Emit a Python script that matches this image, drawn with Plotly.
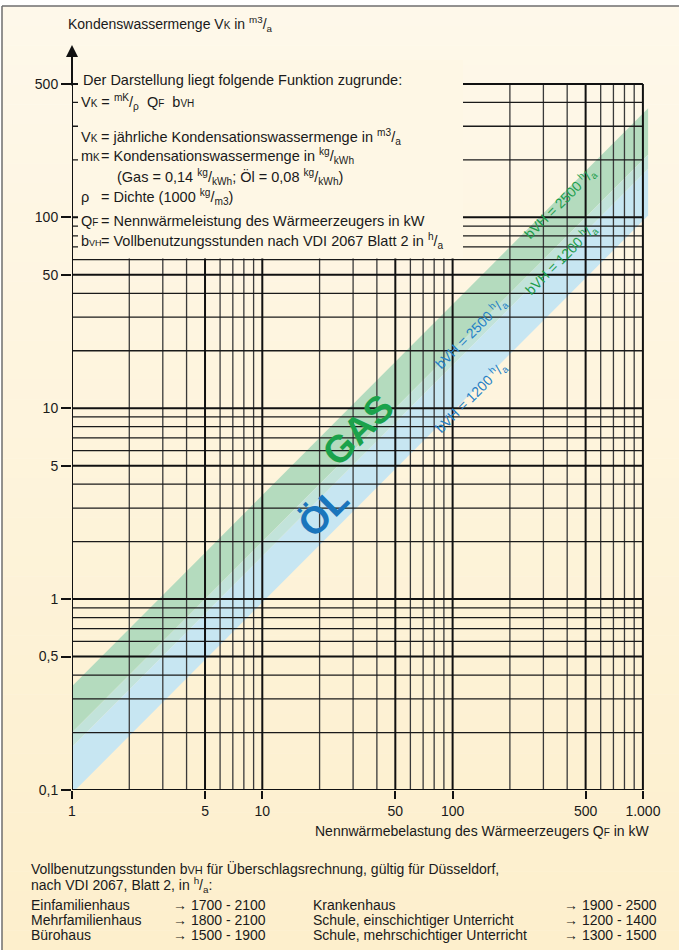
import plotly.graph_objects as go

# ---------------- data ----------------
X_MAJOR = [1, 5, 10, 50, 100, 500, 1000]
X_MINOR = [2, 3, 4, 6, 7, 8, 9, 20, 30, 40, 60, 70, 80, 90,
           200, 300, 400, 600, 700, 800, 900]
Y_MAJOR = [0.1, 0.5, 1, 5, 10, 50, 100, 500]
Y_MINOR = [0.2, 0.3, 0.4, 0.6, 0.7, 0.8, 0.9, 2, 3, 4, 6, 7, 8, 9,
           20, 30, 40, 60, 70, 80, 90, 200, 300, 400]
X_TICKTEXT = ["1", "5", "10", "50", "100", "500", "1.000"]
Y_TICKTEXT = ["0,1", "0,5", "1", "5", "10", "50", "100", "500"]

FUELS = ["Gas", "Öl"]
M_K = [0.14, 0.08]          # kg/kWh
RHO = 1000                  # kg/m3
B_VH = [1200, 2500]         # h/a
Q_BAND = [1, 1065]          # kW, extent of the bands

TABLE_LEFT = ["Einfamilienhaus", "Mehrfamilienhaus", "Bürohaus"]
RANGE_LEFT = ["1700 - 2100", "1800 - 2100", "1500 - 1900"]
TABLE_RIGHT = ["Krankenhaus", "Schule, einschichtiger Unterricht",
               "Schule, mehrschichtiger Unterricht"]
RANGE_RIGHT = ["1900 - 2500", "1200 - 1400", "1300 - 1500"]

# ---------------- styling ----------------
FONT = "Liberation Sans, Arial, Helvetica, sans-serif"
W, H = 679, 950
L, R, T, B = 72, 649, 40, 790
GREEN_BAND = "#b4dbbe"
OVERLAP_BAND = "#c2e3da"
BLUE_BAND = "#c7e6f2"
GREEN_TXT = "#1f9e4d"
BLUE_TXT = "#2481c6"
INK = "#1a1a1a"


def vk(m, b, q):
    return m / RHO * q * b


gas_lo = [vk(M_K[0], B_VH[0], q) for q in Q_BAND]
gas_hi = [vk(M_K[0], B_VH[1], q) for q in Q_BAND]
oil_lo = [vk(M_K[1], B_VH[0], q) for q in Q_BAND]
oil_hi = [vk(M_K[1], B_VH[1], q) for q in Q_BAND]

fig = go.Figure()


def band(top, bottom, color):
    fig.add_trace(go.Scatter(
        x=Q_BAND + Q_BAND[::-1], y=top + bottom[::-1],
        mode="lines", line=dict(width=0), fill="toself",
        fillcolor=color, hoverinfo="skip"))


band(gas_hi, oil_hi, GREEN_BAND)
band(oil_hi, gas_lo, OVERLAP_BAND)
band(gas_lo, oil_lo, BLUE_BAND)


def vlines(xs):
    xx, yy = [], []
    for v in xs:
        xx += [v, v, None]
        yy += [Y_MAJOR[0], Y_MAJOR[-1], None]
    return xx, yy


def hlines(ys):
    xx, yy = [], []
    for v in ys:
        xx += [X_MAJOR[0], X_MAJOR[-1], None]
        yy += [v, v, None]
    return xx, yy


for fn, vals, width, color in [(vlines, X_MINOR, 1.3, "#3a3a3a"),
                               (hlines, Y_MINOR, 1.3, "#1a1a1a"),
                               (vlines, X_MAJOR, 2.0, "#111111"),
                               (hlines, Y_MAJOR, 2.0, "#111111")]:
    xx, yy = fn(vals)
    fig.add_trace(go.Scatter(x=xx, y=yy, mode="lines",
                             line=dict(width=width, color=color),
                             hoverinfo="skip"))


def px(x):
    return (x - L) / (R - L)


def py(y):
    return (B - y) / (B - T)


# background gradient stripes + frame
shapes = []
top_c = (0xFE, 0xF8, 0xEA)
bot_c = (0xFD, 0xEF, 0xCC)
n = 48
y0p = 6.0
for i in range(n):
    ya = y0p + (H - y0p) * i / n
    yb = y0p + (H - y0p) * (i + 1) / n + 0.5
    f = (i + 0.5) / n
    c = tuple(round(top_c[k] + (bot_c[k] - top_c[k]) * f) for k in range(3))
    shapes.append(dict(type="rect", xref="paper", yref="paper",
                       x0=px(2), x1=px(W + 2), y0=py(ya), y1=py(yb),
                       fillcolor="rgb(%d,%d,%d)" % c, line=dict(width=0),
                       layer="below"))


def bg_at(y):
    f = (y - y0p) / (H - y0p)
    c = tuple(round(top_c[k] + (bot_c[k] - top_c[k]) * f) for k in range(3))
    return "rgb(%d,%d,%d)" % c


# cover box for the explanation text
shapes.append(dict(type="rect", xref="paper", yref="paper",
                   x0=px(78), x1=px(463), y0=py(60), y1=py(258.5),
                   fillcolor=bg_at(160), line=dict(width=0), layer="above"))
# frame
shapes.append(dict(type="line", xref="paper", yref="paper",
                   x0=px(2), x1=px(W + 2), y0=py(6), y1=py(6),
                   line=dict(color="#6e6e6e", width=1.5), layer="above"))
shapes.append(dict(type="line", xref="paper", yref="paper",
                   x0=px(2), x1=px(2), y0=py(6), y1=py(H + 2),
                   line=dict(color="#6e6e6e", width=1.5), layer="above"))

ann = []


def text(t, x, y, xa="left", ya="middle", size=14, color=INK, angle=0):
    if xa == "left":
        x -= 3
    ann.append(dict(text=t, x=px(x), y=py(y), xref="paper", yref="paper",
                    xanchor=xa, yanchor=ya, showarrow=False, textangle=angle,
                    borderpad=0, borderwidth=0,
                    font=dict(family=FONT, size=size, color=color)))


def sm(s, size=10):
    return "<span style='font-size:%spx'>%s</span>" % (size, s)


NB = "\u00a0"
BOX = 14.5

# y axis title
text("Kondenswassermenge V" + sm("K") + " in <sup>m3</sup>/<sub>a</sub>", 71, 24)
# x axis title
text("Nennwärmebelastung des Wärmeerzeugers Q" + sm("F") + " in kW", 649, 831, xa="right")

# explanation block
text("Der Darstellung liegt folgende Funktion zugrunde:", 86, 80, size=BOX)
text("V" + sm("K") + " = <sup>mK</sup>/<sub>ρ</sub>" + NB + NB + "Q" + sm("F")
     + NB + NB + "b" + sm("VH"), 84, 102, size=BOX)
left_syms = ["V" + sm("K"), "m" + sm("K"), "ρ", "Q" + sm("F"), "b" + sm("VH", 9)]
right_txt = ["= jährliche Kondensationswassermenge in <sup>m3</sup>/<sub>a</sub>",
             "= Kondensationswassermenge in <sup>kg</sup>/<sub>kWh</sub>",
             "= Dichte (1000 <sup>kg</sup>/<sub>m3</sub>)",
             "= Nennwärmeleistung des Wärmeerzeugers in kW",
             "= Vollbenutzungsstunden nach VDI 2067 Blatt 2 in <sup>h</sup>/<sub>a</sub>"]
rows_y = [137, 156, 197, 221, 241]
for s, t, yy in zip(left_syms, right_txt, rows_y):
    text(s, 84, yy, size=BOX)
    text(t, 104, yy, size=BOX)
text("(Gas = 0,14 <sup>kg</sup>/<sub>kWh</sub>; Öl = 0,08 <sup>kg</sup>/<sub>kWh</sub>)", 120, 177, size=BOX)

# band labels
text("bVH = 2500 <sup>h</sup>/<sub>a</sub>", 560, 203, xa="center", size=14, color=GREEN_TXT, angle=-45)
text("bVH = 1200 <sup>h</sup>/<sub>a</sub>", 561, 259, xa="center", size=14, color=GREEN_TXT, angle=-45)
text("bVH = 2500 <sup>h</sup>/<sub>a</sub>", 471, 333, xa="center", size=14, color=BLUE_TXT, angle=-45)
text("bVH = 1200 <sup>h</sup>/<sub>a</sub>", 471, 397, xa="center", size=14, color=BLUE_TXT, angle=-45)
text("<b>GAS</b>", 358, 430, xa="center", size=38, color="#1ba24b", angle=-45)
text("<b>ÖL</b>", 323, 512, xa="center", size=38, color="#1a75bc", angle=-45)

# bottom notes
text("Vollbenutzungsstunden b" + sm("VH", 11) + " für Überschlagsrechnung, gültig für Düsseldorf,", 34, 868)
text("nach VDI 2067, Blatt 2, in <sup>h</sup>/<sub>a</sub>:", 34, 885)
rows = [905, 920, 935]
for a, b, c, d, yy in zip(TABLE_LEFT, RANGE_LEFT, TABLE_RIGHT, RANGE_RIGHT, rows):
    text(a, 34, yy)
    text("→ " + b, 176, yy)
    text(c, 316, yy)
    text("→ " + d, 657, yy, xa="right")

# axis arrow
ann.append(dict(text="", x=0, y=py(45), xref="paper", yref="paper",
                showarrow=True, ax=0, ay=42, axref="pixel", ayref="pixel",
                arrowhead=2, arrowsize=1.2, arrowwidth=2, arrowcolor="#111111"))

fig.update_layout(
    width=W, height=H,
    margin=dict(l=L, r=W - R, t=T, b=H - B, pad=0),
    paper_bgcolor="white", plot_bgcolor="rgba(0,0,0,0)",
    showlegend=False,
    font=dict(family=FONT, size=14, color=INK),
    shapes=shapes, annotations=ann,
    xaxis=dict(type="log", range=[0, 3.032], tickmode="array",
               tickvals=X_MAJOR, ticktext=X_TICKTEXT, ticks="outside",
               ticklen=8, tickwidth=2, tickcolor="#111111",
               showgrid=False, zeroline=False, showline=False,
               tickfont=dict(size=14, color=INK)),
    yaxis=dict(type="log", range=[-1, 2.929], tickmode="array",
               tickvals=Y_MAJOR, ticktext=Y_TICKTEXT, ticks="outside",
               ticklen=10, tickwidth=2, tickcolor="#111111",
               showgrid=False, zeroline=False, showline=False,
               tickfont=dict(size=14, color=INK)),
)

fig.write_html("out.html", config={"displayModeBar": False},
               post_script="document.body.style.margin='0';document.body.style.overflow='hidden';")
